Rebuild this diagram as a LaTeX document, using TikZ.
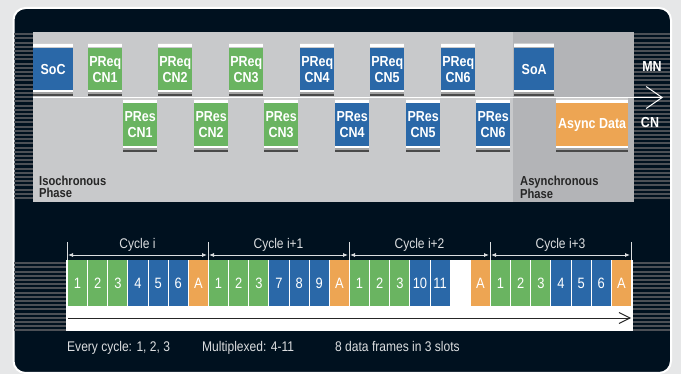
\documentclass[tikz,border=0pt]{standalone}
\usepackage{fontspec}
\setmainfont{Liberation Sans}
\newfontfamily\condfont[FakeStretch=0.86]{Liberation Sans}
\usetikzlibrary{arrows.meta}
\definecolor{bgout}{HTML}{E6E7E8}
\definecolor{navy}{HTML}{00111F}
\definecolor{stripe}{HTML}{4C5056}
\definecolor{panelA}{HTML}{C8C9CB}
\definecolor{panelB}{HTML}{B3B4B7}
\definecolor{cblue}{HTML}{2A68A8}
\definecolor{cgreen}{HTML}{6AB461}
\definecolor{corange}{HTML}{EDA553}
\definecolor{txtlight}{HTML}{DCDEE0}
\definecolor{capgray}{HTML}{CFCFCF}
\definecolor{capmid}{HTML}{A4A4A4}
\definecolor{capdark}{HTML}{4A4A4A}
\definecolor{phasetxt}{HTML}{262626}
\newcommand\tbox[6]{%
  \pgfmathsetmacro\tbw{#3-#2}%
  \fill[capgray] (#2,#4) rectangle (#3,#4+1.5);
  \fill[white] (#2,#4+1.5) rectangle (#3,#4+4.5);
  \node[tbody, fill=#5, minimum width=\tbw pt, anchor=north west] (#1) at (#2,#4+4.5) {#6};
  \fill[white] (#2,#4+47.5) rectangle (#3,#4+49.5);
  \fill[capmid] (#2,#4+49.5) rectangle (#3,#4+51.5);
  \fill[capdark] (#2,#4+51.5) rectangle (#3,#4+53.5);
}
\newcommand\frm[5]{%
  \node[frame, fill=#4] (#1) at ({67+141*#2+20.14*#3+10.57},283) {#5};
}
\newcommand\stripes[5]{%
  \foreach \i in {0,...,#5} {\fill[stripe] (#1,{#3+\i*4.2+1.2}) rectangle (#2,{#3+\i*4.2+3.2});}
}
\begin{document}
\begin{tikzpicture}[x=1pt,y=-1pt,
  tbody/.style={inner sep=0pt, minimum height=43pt, text=white, align=center,
    font=\condfont\bfseries\fontsize{14.5}{16}\selectfont},
  frame/.style={inner sep=0pt, minimum width=19.1pt, minimum height=46pt, text=white,
    font=\condfont\fontsize{15}{16}\selectfont},
  phase/.style={anchor=north west, inner sep=0pt, align=left, text=phasetxt,
    font=\condfont\bfseries\fontsize{13}{12}\selectfont},
  mnlab/.style={text=white, inner sep=0pt, font=\condfont\bfseries\fontsize{14.5}{16}\selectfont},
  cyclab/.style={text=txtlight, inner sep=0pt, font=\condfont\fontsize{14}{16}\selectfont},
  foot/.style={text=txtlight, inner sep=0pt, anchor=base west, font=\condfont\fontsize{14}{16}\selectfont},
  cycarrow/.style={txtlight, line width=0.8pt, {Latex[length=5pt,width=4pt]}-{Latex[length=5pt,width=4pt]}, shorten <=1pt, shorten >=1pt},
  tick/.style={txtlight, line width=0.8pt},
]
\useasboundingbox (0,0) rectangle (681,374);
\fill[bgout] (0,0) rectangle (681,374);
\draw[white, line width=2pt, fill=navy, rounded corners=12pt] (13.5,8) rectangle (671,373);
% upper panel
\fill[panelA] (33,32) rectangle (513,202);
\fill[panelB] (513,32) rectangle (634,202);
\stripes{14}{33}{32}{202}{39}
\stripes{634}{670}{32}{202}{39}
% bus line
\coordinate (busL) at (33,97.5);
\coordinate (busR) at (663,97.5);
\draw[white, line width=1.1pt, -{Straight Barb[length=16pt,width=22pt,line width=1pt]}] (busL) -- (busR);
\node[mnlab] (mn) at (652,67) {MN};
\node[mnlab] (cn) at (650,123) {CN};
% top boxes
\tbox{soc}{33}{72.7}{43}{cblue}{SoC}
\tbox{preq1}{88}{122}{43}{cgreen}{PReq\\CN1}
\tbox{preq2}{158}{192}{43}{cgreen}{PReq\\CN2}
\tbox{preq3}{229}{263}{43}{cgreen}{PReq\\CN3}
\tbox{preq4}{300}{334}{43}{cblue}{PReq\\CN4}
\tbox{preq5}{370}{404}{43}{cblue}{PReq\\CN5}
\tbox{preq6}{441}{475}{43}{cblue}{PReq\\CN6}
\tbox{soa}{514}{554}{43}{cblue}{SoA}
\tbox{pres1}{123}{157}{98.5}{cgreen}{PRes\\CN1}
\tbox{pres2}{194}{228}{98.5}{cgreen}{PRes\\CN2}
\tbox{pres3}{264}{298}{98.5}{cgreen}{PRes\\CN3}
\tbox{pres4}{335}{369}{98.5}{cblue}{PRes\\CN4}
\tbox{pres5}{406}{440}{98.5}{cblue}{PRes\\CN5}
\tbox{pres6}{476}{510}{98.5}{cblue}{PRes\\CN6}
\tbox{async}{556}{628}{98.5}{corange}{Async Data}
\node[phase] (iso) at (39,175.5) {Isochronous\\Phase};
\node[phase] (asy) at (520,175.5) {Asynchronous\\Phase};
% lower strip
\stripes{14}{66}{261}{332}{16}
\stripes{633}{670}{261}{332}{16}
\fill[white] (66,260) rectangle (633,331);
\frm{f01}{0}{0}{cgreen}{1}
\frm{f02}{0}{1}{cgreen}{2}
\frm{f03}{0}{2}{cgreen}{3}
\frm{f04}{0}{3}{cblue}{4}
\frm{f05}{0}{4}{cblue}{5}
\frm{f06}{0}{5}{cblue}{6}
\frm{f07}{0}{6}{corange}{A}
\frm{f11}{1}{0}{cgreen}{1}
\frm{f12}{1}{1}{cgreen}{2}
\frm{f13}{1}{2}{cgreen}{3}
\frm{f14}{1}{3}{cblue}{7}
\frm{f15}{1}{4}{cblue}{8}
\frm{f16}{1}{5}{cblue}{9}
\frm{f17}{1}{6}{corange}{A}
\frm{f21}{2}{0}{cgreen}{1}
\frm{f22}{2}{1}{cgreen}{2}
\frm{f23}{2}{2}{cgreen}{3}
\frm{f24}{2}{3}{cblue}{10}
\frm{f25}{2}{4}{cblue}{11}
\frm{f27}{2}{6}{corange}{A}
\frm{f31}{3}{0}{cgreen}{1}
\frm{f32}{3}{1}{cgreen}{2}
\frm{f33}{3}{2}{cgreen}{3}
\frm{f34}{3}{3}{cblue}{4}
\frm{f35}{3}{4}{cblue}{5}
\frm{f36}{3}{5}{cblue}{6}
\frm{f37}{3}{6}{corange}{A}
% cycle markers
\foreach \k/\xx in {0/67,1/208,2/349,3/490,4/631} {
  \coordinate (t\k) at (\xx,242);
  \coordinate (b\k) at (\xx,260);
  \coordinate (a\k) at (\xx,255);
  \draw[tick] (t\k) -- (b\k);
}
\draw[cycarrow] (a0) -- (a1);
\draw[cycarrow] (a1) -- (a2);
\draw[cycarrow] (a2) -- (a3);
\draw[cycarrow] (a3) -- (a4);
\node[cyclab] (c0) at (137.5,245) {Cycle i};
\node[cyclab] (c1) at (278.5,245) {Cycle i+1};
\node[cyclab] (c2) at (419.5,245) {Cycle i+2};
\node[cyclab] (c3) at (560.5,245) {Cycle i+3};
% time axis
\coordinate (tl) at (68,318);
\coordinate (tr) at (631,318);
\draw[black!85, line width=0.9pt, -{Straight Barb[length=11pt,width=11pt,line width=0.9pt]}] (tl) -- (tr);
\node[foot] (n1) at (67,351.5) {Every cycle: 1, 2, 3};
\node[foot] (n2) at (202,351.5) {Multiplexed: 4-11};
\node[foot] (n3) at (335,351.5) {8 data frames in 3 slots};
\end{tikzpicture}
\end{document}
